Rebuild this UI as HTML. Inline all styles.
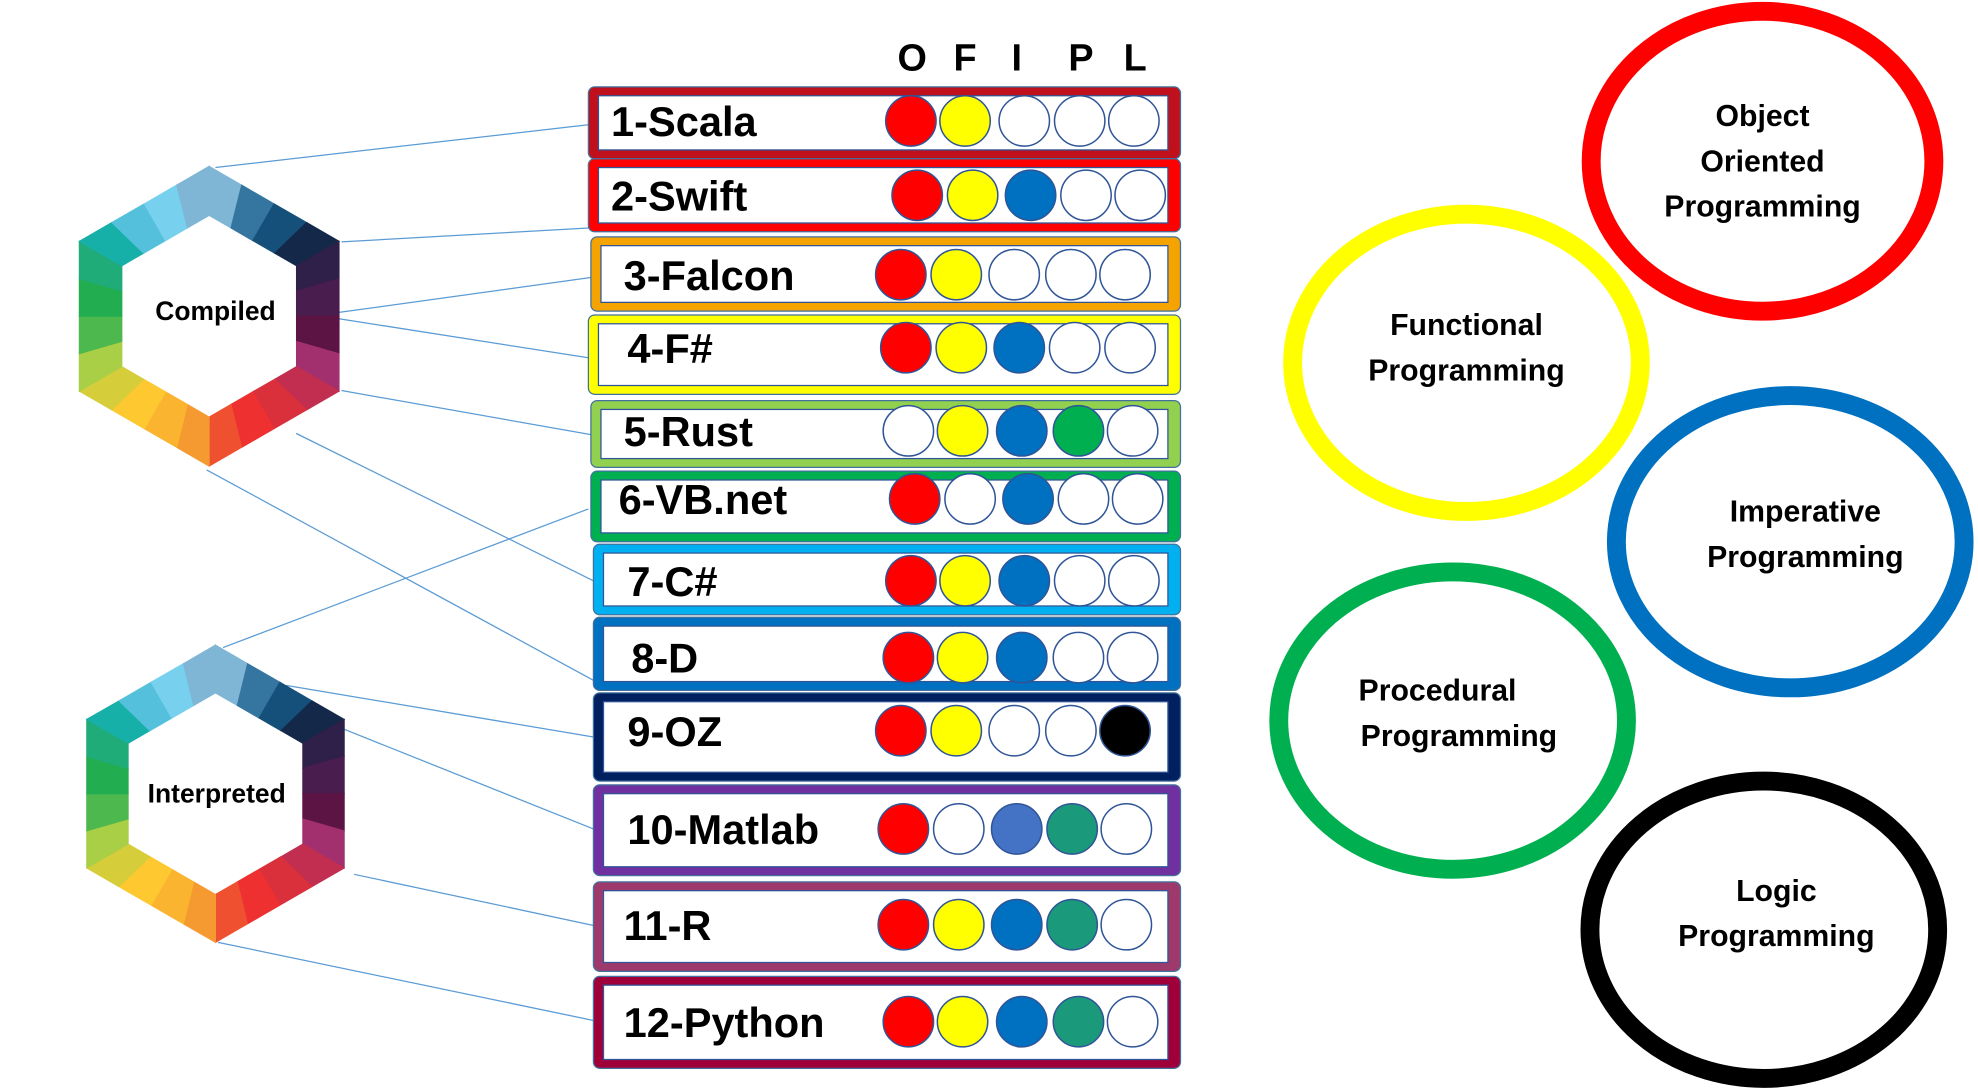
<!DOCTYPE html>
<html><head><meta charset="utf-8"><style>
html,body{margin:0;padding:0;background:#fff;}
svg{display:block;}
text{font-family:"Liberation Sans",sans-serif;font-weight:bold;}
</style></head><body>
<svg id="s" width="1978" height="1091" viewBox="0 0 1568 866" xmlns="http://www.w3.org/2000/svg">
<g stroke="#5b9bd5" stroke-width="1">
<line x1="170" y1="133" x2="466" y2="99"/>
<line x1="270" y1="192" x2="466" y2="181"/>
<line x1="268" y1="248" x2="470" y2="220"/>
<line x1="268" y1="253" x2="466" y2="284"/>
<line x1="270" y1="310" x2="468" y2="345"/>
<line x1="234" y1="344" x2="472" y2="462"/>
<line x1="163" y1="373" x2="470" y2="540"/>
<line x1="176" y1="514" x2="466" y2="404"/>
<line x1="226" y1="544" x2="470" y2="585"/>
<line x1="270" y1="578" x2="470" y2="658"/>
<line x1="280" y1="694" x2="472" y2="735"/>
<line x1="172" y1="748" x2="470" y2="810"/>
</g>
<g id="hex"></g>
<text x="170" y="254" font-size="21" text-anchor="middle">Compiled</text>
<text x="171" y="637" font-size="21" text-anchor="middle">Interpreted</text>
<g font-size="30" text-anchor="middle">
<text x="723" y="56">O</text><text x="765" y="56">F</text><text x="806" y="56">I</text><text x="857" y="56">P</text><text x="900" y="56">L</text>
</g>
<g id="rows"></g>
<g fill="none" stroke-width="15">
<ellipse cx="1398" cy="128" rx="136" ry="119" stroke="#ff0000"/>
<ellipse cx="1163" cy="288" rx="138" ry="118" stroke="#ffff00"/>
<ellipse cx="1420" cy="430" rx="138" ry="116" stroke="#0070c0"/>
<ellipse cx="1152" cy="572" rx="138" ry="118" stroke="#00b050"/>
<ellipse cx="1399" cy="738" rx="138" ry="118" stroke="#000000"/>
</g>
<g font-size="24" text-anchor="middle">
<text x="1398" y="100">Object</text><text x="1398" y="136">Oriented</text><text x="1398" y="172">Programming</text>
<text x="1163" y="266">Functional</text><text x="1163" y="302">Programming</text>
<text x="1432" y="414">Imperative</text><text x="1432" y="450">Programming</text>
<text x="1140" y="556">Procedural</text><text x="1157" y="592">Programming</text>
<text x="1409" y="715">Logic</text><text x="1409" y="751">Programming</text>
</g>
</svg>
<script>
(function(){
var NS="http://www.w3.org/2000/svg";
var cols=["#a9dcf3","#7fb5d5","#3576a0","#15507a","#1f3a60","#14284a","#2e2048","#4a1d4f","#5c1445","#80205a","#a3306e","#c22e50","#d9303c","#ee3030","#ee5030","#f07830","#f59a30","#fbb430","#fdc830","#d6cd3a","#a9cf46","#7cc04a","#4db84e","#22ad50","#20ac78","#16b0a8","#1bb5cc","#55c0dc","#78d0ef","#a9dcf3"];
cols=["#7fb5d5","#3576a0","#15507a","#1f3a60","#14284a","#2e2048","#4a1d4f","#5c1445","#80205a","#a3306e","#c22e50","#d9303c","#ee3030","#ee5030","#f07830","#f59a30","#fbb430","#fdc830","#d6cd3a","#a9cf46","#7cc04a","#4db84e","#22ad50","#20ac78","#16b0a8","#1bb5cc","#55c0dc","#78d0ef","#a9dcf3","#a9dcf3"];
var g=document.getElementById("hex");
function hex(cx,cy,R,r){
 function pt(rad,k){var a=(-90+60*k)*Math.PI/180;return [cx+rad*Math.cos(a)*1.0,cy+rad*Math.sin(a)];}
 var idx=0;
 for(var k=0;k<6;k++){
  var O1=pt(R,k),O2=pt(R,k+1),I1=pt(r,k),I2=pt(r,k+1);
  for(var j=0;j<4;j++){
   var t0=j/4,t1=(j+1)/4;
   function L(a,b,t){return [a[0]+(b[0]-a[0])*t,a[1]+(b[1]-a[1])*t];}
   var p=[L(O1,O2,t0),L(O1,O2,t1),L(I1,I2,t1),L(I1,I2,t0)];
   var e=document.createElementNS(NS,"polygon");
   e.setAttribute("points",p.map(function(q){return q[0].toFixed(1)+","+q[1].toFixed(1)}).join(" "));
   e.setAttribute("fill",cols[(k*4+j+1)%24===0?0:Math.min(28,Math.round((k*4+j)*28/23))]);
   e.setAttribute("stroke",e.getAttribute("fill"));e.setAttribute("stroke-width","0.8");
   g.appendChild(e);
  }
 }
}
hex(165,251,119,80);
hex(170,630,118,80);
var rows=[
["1-Scala","#c0101c",466,69,470,57,484,[722,765,812,856,899],96,"RYWWW"],
["2-Swift","#ff0000",466,126,470,58,484,[727,771,817,861,904],155,"RYBWW"],
["3-Falcon","#f5a300",468,188,468,59,494,[714,758,804,849,892],218,"RYWWW"],
["4-F#","#ffff00",466,250,470,63,497,[718,762,808,852,896],276,"RYBWW"],
["5-Rust","#92d050",468,318,468,53,494,[720,763,810,855,898],342,"WYBGW"],
["6-VB.net","#00b050",468,374,468,56,490,[725,769,815,859,902],396,"RWBWW"],
["7-C#","#00b0f0",470,432,466,56,497,[722,765,812,856,899],461,"RYBWW"],
["8-D","#0070c0",470,490,466,58,500,[720,763,810,855,898],522,"RYBWW"],
["9-OZ","#002060",470,550,466,70,497,[714,758,804,849,892],580,"RYWWK"],
["10-Matlab","#7030a0",470,623,466,72,497,[716,760,806,850,893],658,"RWMTW"],
["11-R","#9e3a6b",470,700,466,71,494,[716,760,806,850,893],734,"RYBTW"],
["12-Python","#a0003a",470,775,466,73,494,[720,763,810,855,898],811,"RYBTW"]];
var cm={R:"#ff0000",Y:"#ffff00",B:"#0070c0",G:"#00b050",T:"#1a9a7a",M:"#4472c4",K:"#000000",W:"#ffffff"};
var rg=document.getElementById("rows");
rows.forEach(function(r){
 var h='<rect x="'+r[2]+'" y="'+r[3]+'" width="'+r[4]+'" height="'+r[5]+'" rx="5" fill="'+r[1]+'" stroke="#41719c" stroke-width="1"/>';
 h+='<rect x="'+(r[2]+8)+'" y="'+(r[3]+7)+'" width="'+(r[4]-18)+'" height="'+(r[5]-14)+'" fill="#fff" stroke="#2f5597" stroke-width="1"/>';
 h+='<text x="'+r[6]+'" y="'+(r[8]+12)+'" font-size="33">'+r[0].replace("&","&amp;")+'</text>';
 for(var i=0;i<5;i++){h+='<circle cx="'+r[7][i]+'" cy="'+r[8]+'" r="20" fill="'+cm[r[9][i]]+'" stroke="#2f5597" stroke-width="1.2"/>';}
 rg.insertAdjacentHTML("beforeend",h);
});
var s=document.getElementById("s");s.innerHTML=s.innerHTML;
})();
</script>
</body></html>
